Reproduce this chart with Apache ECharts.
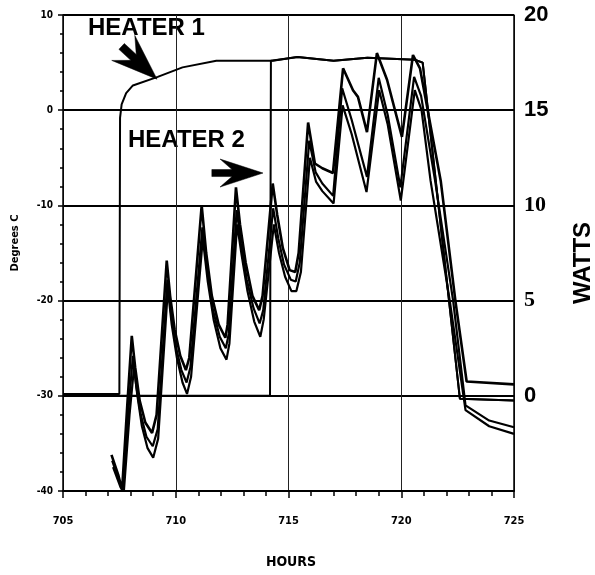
<!DOCTYPE html>
<html><head><meta charset="utf-8">
<script src="https://cdn.jsdelivr.net/npm/echarts@6/dist/echarts.min.js"></script>
<style>html,body{margin:0;padding:0;background:#fff}#c{width:595px;height:575px}</style>
</head><body><div id="c"></div>
<script>
// ---- data (hours, degrees C / watts) ----
const xTicks = [705, 710, 715, 720, 725];
const tempTicks = [-40, -30, -20, -10, 0, 10];
const wattTicks = [0, 5, 10, 15, 20];

const upperHours = [707.15,707.45,707.62,707.85,708.05,708.2,708.4,708.65,708.95,709.15,709.6,709.75,709.95,710.2,710.45,710.6,711.15,711.35,711.6,711.9,712.2,712.3,712.67,712.85,713.1,713.4,713.7,713.85,714.3,714.5,714.75,715.05,715.3,715.45,715.87,716.17,716.5,716.97,717.42,717.86,718.08,718.48,718.92,719.37,720.03,720.52,720.83,721.75,722.4,722.9,725];
const upperTemp  = [-36.2,-38.3,-39.9,-31,-23.7,-27,-30.5,-32.8,-33.9,-32,-15.8,-19.5,-23,-25.8,-27.3,-26,-10.0,-15,-19.5,-22.5,-23.9,-22.5,-8.1,-12,-16,-19.5,-21.0,-19.5,-7.7,-11,-14.5,-16.8,-17.0,-15,-1.3,-5.6,-6.1,-6.6,4.4,2.1,1.4,-2.3,6.0,3.2,-2.8,5.8,4.4,-7.4,-20,-28.5,-28.8];

const midHours = [707.18,707.5,707.66,707.9,708.1,708.25,708.45,708.7,708.98,709.2,709.63,709.8,710.0,710.25,710.48,710.65,711.18,711.4,711.65,711.95,712.22,712.35,712.7,712.9,713.15,713.45,713.72,713.88,714.32,714.55,714.8,715.1,715.32,715.5,715.92,716.2,716.5,716.98,717.38,717.8,718.48,719.0,719.4,719.96,720.57,720.88,721.5,722.3,722.85,723.9,725];
const midTemp  = [-36.8,-39,-40,-31.5,-25.8,-29,-32,-34.3,-35.3,-33.5,-17.8,-21.5,-24.8,-27.3,-28.6,-27,-12.3,-17,-21,-23.8,-25.0,-23.5,-10.5,-14,-17.8,-20.8,-22.4,-21,-10.3,-13.5,-16.2,-17.8,-18.0,-16,-3.2,-6.5,-7.7,-9.0,2.3,-1,-7.0,3.4,-0.5,-8.1,3.5,1.5,-7.4,-20,-31,-32.6,-33.3];

const lowHours = [707.22,707.55,707.7,707.95,708.15,708.3,708.5,708.75,709.0,709.22,709.65,709.82,710.05,710.3,710.5,710.68,711.2,711.42,711.68,711.98,712.25,712.38,712.72,712.92,713.18,713.48,713.75,713.9,714.35,714.58,714.85,715.13,715.35,715.55,715.95,716.22,716.5,717.0,717.4,717.8,718.46,719.02,719.4,719.98,720.6,720.9,721.3,722.15,722.85,723.9,725];
const lowTemp  = [-37.5,-39.6,-40,-32,-27,-30,-33.2,-35.5,-36.5,-34.5,-18.8,-22.5,-26,-28.6,-29.8,-28,-13.5,-18,-22,-25,-26.2,-24.5,-12,-15.2,-19,-22.2,-23.8,-22,-12,-15,-17.5,-19.0,-19.0,-17,-5,-7.5,-8.5,-9.8,0.5,-2.5,-8.6,2.1,-1.5,-9.5,2.1,0,-7.4,-20,-31.5,-33.2,-34];

const heater1Hours = [705,707.5,707.53,707.6,707.8,708.1,709.2,710.3,711.8,714.3,715.4,717.0,718.5,720.6,720.95,722.6,725];
const heater1Watts = [0.1,0.1,14.6,15.3,15.9,16.3,16.75,17.25,17.6,17.6,17.8,17.6,17.75,17.65,17.5,-0.15,-0.25];

const heater2Hours = [705,714.18,714.22,715.4,717.0,718.5,720.6,720.95,722.6,725];
const heater2Watts = [0,0,17.6,17.8,17.6,17.75,17.65,17.5,-0.15,-0.25];

// annotation arrows: [tail, tip] in (hours, degrees C)
const arrow1 = [[707.6, 6.7], [709.17, 3.26]];
const arrow2 = [[711.6, -6.6], [713.87, -6.6]];

const zip = (a, b) => a.map((v, i) => [v, b[i]]);

const condensed = '"DejaVu Sans Condensed", "Liberation Sans Narrow", "Arial Narrow", sans-serif';
const sans = '"Liberation Sans", Arial, Helvetica, sans-serif';

const chart = echarts.init(document.getElementById('c'), null, {renderer: 'canvas'});
const lineSeries = (name, data, yIdx, w) => ({
  name, type: 'line', data, yAxisIndex: yIdx, showSymbol: false, symbol: 'none',
  lineStyle: {color: '#000', width: w}, z: 5, animation: false
});

const texts = [
  {id: 't1', type: 'text', left: 88, top: 16, style: {text: 'HEATER 1', fontFamily: sans, fontWeight: 'bold', fontSize: 24, fill: '#000'}},
  {id: 't2', type: 'text', left: 128, top: 128, style: {text: 'HEATER 2', fontFamily: sans, fontWeight: 'bold', fontSize: 24, fill: '#000'}},
  {id: 't3', type: 'text', x: 15, y: 243, rotation: Math.PI / 2,
   style: {text: 'Degrees C', fontFamily: condensed, fontWeight: 'bold', fontSize: 11, fill: '#000', align: 'center', verticalAlign: 'middle'}},
  {id: 't4', type: 'text', x: 583, y: 263, rotation: Math.PI / 2,
   style: {text: 'WATTS', fontFamily: sans, fontWeight: 'bold', fontSize: 24, fill: '#000', align: 'center', verticalAlign: 'middle'}},
  {id: 't5', type: 'text', x: 291, y: 562,
   style: {text: 'HOURS', fontFamily: condensed, fontWeight: 'bold', fontSize: 14, fill: '#000', align: 'center', verticalAlign: 'middle'}}
];

chart.setOption({
  animation: false,
  backgroundColor: '#fff',
  grid: {left: 63, right: 81, top: 15, bottom: 84, containLabel: false},
  xAxis: {
    type: 'value', min: xTicks[0], max: xTicks[xTicks.length - 1], interval: 5,
    axisLine: {show: true, onZero: false, lineStyle: {color: '#000', width: 2}},
    axisTick: {show: true, length: 7, lineStyle: {color: '#000', width: 1.5}},
    minorTick: {show: true, splitNumber: 5, length: 5, lineStyle: {color: '#000', width: 1.5}},
    splitLine: {show: true, lineStyle: {color: '#222', width: 1}},
    axisLabel: {margin: 25, color: '#000', fontFamily: condensed, fontWeight: 'bold', fontSize: 11}
  },
  yAxis: [{
    type: 'value', min: tempTicks[0], max: tempTicks[tempTicks.length - 1], interval: 10,
    axisLine: {show: true, onZero: false, lineStyle: {color: '#000', width: 1.5}},
    axisTick: {show: true, length: 5, lineStyle: {color: '#000', width: 1.5}},
    minorTick: {show: true, splitNumber: 5, length: 3, lineStyle: {color: '#000', width: 1.5}},
    splitLine: {show: true, lineStyle: {color: '#000', width: 2}},
    axisLabel: {margin: 10, color: '#000', fontFamily: condensed, fontWeight: 'bold', fontSize: 10}
  }, {
    type: 'value', min: -5, max: wattTicks[wattTicks.length - 1], interval: 5, position: 'right',
    axisLine: {show: true, onZero: false, lineStyle: {color: '#000', width: 1.5}},
    axisTick: {show: false},
    splitLine: {show: false},
    axisLabel: {
      margin: 10, color: '#000',
      formatter: v => wattTicks.indexOf(v) < 0 ? '' : ((v === 10 || v === 5) ? '{r|' + v + '}' : '{s|' + v + '}'),
      rich: {
        s: {fontFamily: sans, fontWeight: 'bold', fontSize: 22, color: '#000'},
        r: {fontFamily: '"Liberation Serif", "Times New Roman", serif', fontWeight: 'bold', fontSize: 22, color: '#000'}
      }
    }
  }],
  series: [
    lineSeries('Heater 1', zip(heater1Hours, heater1Watts), 1, 2),
    lineSeries('Heater 2', zip(heater2Hours, heater2Watts), 1, 2),
    lineSeries('T upper', zip(upperHours, upperTemp), 0, 2.6),
    lineSeries('T middle', zip(midHours, midTemp), 0, 2.2),
    lineSeries('T lower', zip(lowHours, lowTemp), 0, 2.2)
  ],
  graphic: texts
});

// Arrow glyphs placed from data coordinates via the chart's own scales
function arrowShape(tail, tip, headLen, headHalf, notch, shaftHalf) {
  const p0 = chart.convertToPixel({seriesIndex: 2}, tail);
  const p1 = chart.convertToPixel({seriesIndex: 2}, tip);
  const dx = p1[0] - p0[0], dy = p1[1] - p0[1];
  const len = Math.sqrt(dx * dx + dy * dy);
  const ux = dx / len, uy = dy / len, vx = -uy, vy = ux;
  const local = [[0, 0], [-headLen, -headHalf], [-notch, -shaftHalf], [-len, -shaftHalf],
                 [-len, shaftHalf], [-notch, shaftHalf], [-headLen, headHalf]];
  return local.map(([a, b]) => [p1[0] + a * ux + b * vx, p1[1] + a * uy + b * vy]);
}
chart.setOption({
  graphic: texts.concat([
    {id: 'a1', type: 'polygon', z: 100, shape: {points: arrowShape(arrow1[0], arrow1[1], 46, 17, 32, 4)}, style: {fill: '#000', stroke: '#000', lineWidth: 0.5}},
    {id: 'a2', type: 'polygon', z: 100, shape: {points: arrowShape(arrow2[0], arrow2[1], 43, 14, 31, 3.5)}, style: {fill: '#000', stroke: '#000', lineWidth: 0.5}}
  ])
});
</script>
</body></html>
